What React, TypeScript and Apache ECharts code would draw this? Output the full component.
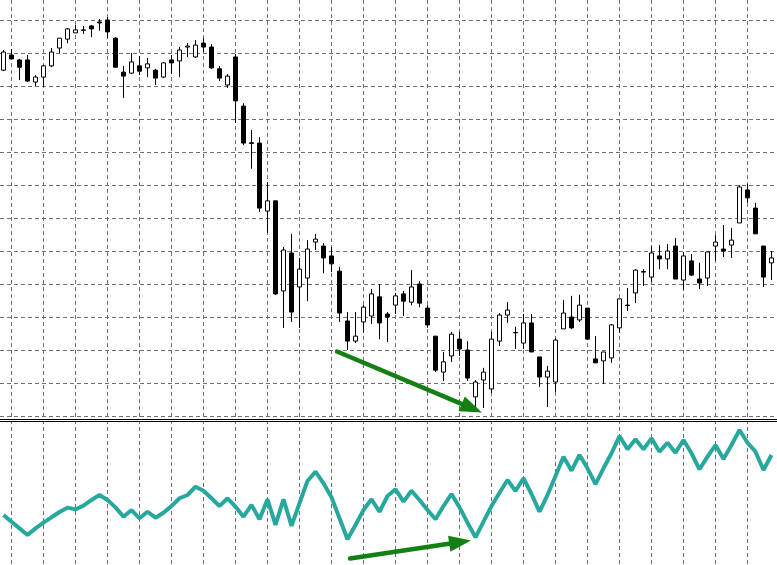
import React, { useEffect, useRef } from "react";
import * as echarts from "echarts";

// Candle values (price units), one entry per bar
const opens = [
  204.8, 209.4, 207.9, 207.9, 201.2, 202.7, 206.1, 211.5, 214.2, 216.1,
  217.0, 218.2, 219.4, 220.0, 214.5, 204.2, 203.9, 206.1, 205.5, 204.8,
  202.7, 207.9, 207.6, 211.8, 208.8, 213.0, 211.8, 205.2, 200.3, 208.8,
  193.9, 182.8, 182.7, 162.1, 165.2, 137.9, 149.4, 139.1, 141.8, 152.7,
  151.5, 148.5, 143.9, 128.8, 122.7, 128.5, 130.3, 136.1, 130.9, 133.6,
  137.0, 134.5, 140.0, 132.7, 124.2, 113.3, 118.2, 123.3, 120.0, 105.8,
  110.9, 108.2, 122.7, 130.6, 125.2, 122.1, 128.2, 117.9, 111.8, 110.3,
  126.4, 130.0, 129.1, 132.7, 117.3, 116.7, 117.6, 126.7, 133.6, 137.3,
  143.6, 142.1, 148.5, 147.6, 151.5, 141.2, 147.0, 141.5, 141.8, 151.5,
  150.6, 151.8, 158.5, 168.5, 163.0, 151.5, 146.4,
];
const closes = [
  210.3, 208.2, 205.7, 201.5, 202.7, 206.1, 210.3, 214.5, 217.3, 217.0,
  216.9, 217.3, 219.1, 216.4, 205.7, 203.0, 207.3, 204.5, 206.7, 202.4,
  207.0, 207.0, 210.9, 212.1, 212.4, 211.8, 205.5, 202.4, 203.0, 195.5,
  182.7, 182.6, 163.0, 165.2, 137.0, 150.3, 131.5, 144.5, 150.6, 153.6,
  147.9, 146.1, 131.2, 122.7, 124.2, 133.0, 137.0, 128.2, 130.0, 136.4,
  134.8, 139.1, 134.2, 127.6, 113.9, 116.4, 124.8, 120.3, 111.5, 110.3,
  113.3, 123.3, 130.6, 132.1, 125.3, 128.2, 119.4, 111.8, 113.6, 123.0,
  131.2, 126.7, 133.6, 123.3, 116.1, 119.4, 127.6, 135.5, 133.5, 144.2,
  143.8, 149.4, 147.6, 150.0, 141.5, 148.5, 142.7, 140.3, 149.7, 152.7,
  150.0, 153.3, 169.4, 166.1, 155.2, 142.1, 147.9,
];
const lows = [
  204.5, 208.2, 201.8, 201.2, 200.0, 199.7, 205.7, 210.0, 213.0, 216.1,
  215.8, 214.8, 216.7, 214.5, 205.5, 196.4, 203.6, 203.3, 202.7, 200.3,
  202.4, 203.6, 202.7, 208.8, 208.5, 210.3, 205.2, 201.5, 199.4, 188.8,
  182.1, 174.9, 161.8, 155.5, 136.7, 126.7, 128.5, 126.7, 134.8, 150.3,
  143.3, 143.6, 128.5, 120.0, 122.1, 125.2, 127.9, 123.3, 122.4, 130.9,
  130.3, 133.6, 133.0, 126.7, 113.3, 110.6, 116.4, 118.2, 110.6, 102.7,
  102.4, 107.0, 121.2, 128.2, 120.3, 120.3, 119.4, 108.8, 102.7, 107.3,
  126.4, 126.4, 128.5, 123.0, 116.1, 109.7, 116.1, 125.2, 131.8, 134.2,
  139.4, 140.6, 144.5, 144.5, 141.5, 138.2, 142.4, 138.5, 139.4, 147.0,
  148.2, 147.9, 158.5, 164.6, 155.2, 139.1, 141.2,
];
const highs = [
  210.9, 211.2, 208.2, 209.4, 203.3, 206.4, 211.5, 214.5, 217.6, 218.5,
  218.2, 218.5, 220.3, 220.9, 214.8, 206.1, 210.0, 209.1, 208.5, 205.2,
  207.3, 209.4, 211.8, 213.0, 213.9, 214.5, 212.7, 206.1, 203.6, 209.7,
  194.8, 186.7, 184.5, 170.9, 165.2, 151.2, 155.2, 147.9, 153.3, 155.2,
  152.4, 151.2, 145.2, 131.5, 131.5, 133.6, 138.5, 140.0, 131.5, 137.3,
  137.9, 144.2, 140.9, 133.6, 124.2, 119.4, 125.5, 125.5, 122.7, 110.9,
  114.6, 125.5, 131.2, 134.5, 127.0, 130.9, 130.9, 117.9, 115.2, 123.6,
  135.2, 136.4, 136.7, 132.7, 124.2, 119.4, 127.9, 135.5, 138.8, 144.5,
  144.5, 151.5, 151.8, 152.1, 153.9, 149.7, 149.1, 146.4, 149.7, 154.8,
  157.9, 157.0, 170.0, 170.3, 164.6, 151.5, 150.0,
];
// Oscillator values (0..100 scale), one per bar
const oscillator = [
  35.2, 30.5, 25.8, 21.1, 25.8, 29.8, 33.6, 37.3, 40.4, 39.2,
  41.8, 45.8, 49.3, 45.8, 40.6, 34.0, 38.7, 32.9, 37.5, 33.3,
  36.8, 41.5, 47.0, 49.3, 55.1, 52.3, 47.0, 41.5, 47.0, 41.1,
  34.0, 42.3, 32.2, 46.3, 28.2, 46.3, 27.5, 43.5, 59.2, 65.7,
  57.5, 47.7, 32.9, 18.1, 28.2, 38.7, 46.3, 37.5, 48.6, 53.3,
  44.6, 52.3, 45.8, 38.7, 32.2, 41.5, 50.0, 40.6, 29.8, 19.5,
  30.5, 41.5, 50.9, 59.9, 52.1, 61.1, 50.0, 37.5, 49.3, 62.7,
  76.3, 66.4, 77.5, 68.1, 57.0, 68.1, 78.7, 90.8, 81.5, 88.5,
  81.5, 89.2, 79.8, 86.1, 79.1, 88.0, 78.7, 67.4, 76.3, 84.5,
  74.6, 84.5, 95.1, 86.1, 79.8, 66.9, 77.5,
];
const priceMin = 100;
const priceMax = 220;
const priceStep = 10;
const categories = opens.map((_, i) => String(i + 1));

export default function App() {
  const ref = useRef<HTMLDivElement>(null);

  useEffect(() => {
    if (!ref.current) return;
    const chart = echarts.init(ref.current, null, { renderer: "svg" });
    const candleData = opens.map((o, i) => [o, closes[i], lows[i], highs[i]]);
    const dashed = { color: "#707070", width: 1, type: [4, 3] as any };
    const green = "#128012";

    const cat = (gridIndex: number, extra: any = {}) => ({
      type: "category",
      gridIndex,
      data: categories,
      boundaryGap: false,
      axisLine: { show: false },
      axisTick: { show: false },
      axisLabel: { show: false },
      splitLine: { show: false },
      ...extra,
    });
    const val = (gridIndex: number, extra: any = {}) => ({
      type: "value",
      gridIndex,
      axisLine: { show: false },
      axisTick: { show: false },
      axisLabel: { show: false },
      splitLine: { show: false },
      ...extra,
    });

    const arrow = (s: number[], t: number[]) => {
      const dx = t[0] - s[0];
      const dy = t[1] - s[1];
      const len = Math.hypot(dx, dy);
      const ux = dx / len;
      const uy = dy / len;
      const L = 22;
      const W = 8;
      const bx = t[0] - ux * L;
      const by = t[1] - uy * L;
      return [
        {
          type: "line",
          z: 100,
          shape: { x1: s[0], y1: s[1], x2: bx + ux * 3, y2: by + uy * 3 },
          style: { stroke: green, lineWidth: 4.5, lineCap: "round" },
        },
        {
          type: "polygon",
          z: 100,
          shape: {
            points: [
              [t[0], t[1]],
              [bx - uy * W, by + ux * W],
              [bx + uy * W, by - ux * W],
            ],
          },
          style: { fill: green },
        },
      ];
    };

    chart.setOption({
      animation: false,
      backgroundColor: "#ffffff",
      grid: [
        { left: 3.5, right: 5.5, top: 20, height: 396 },
        { left: 0, right: 0, top: 20, height: 396 },
        { left: 3.5, right: 5.5, top: 0, bottom: 0 },
        { left: 3.5, right: 5.5, top: 423, bottom: 0 },
      ],
      xAxis: [
        cat(0),
        val(1, { min: 0, max: 1 }),
        cat(2, {
          splitLine: {
            show: true,
            interval: (i: number) => i % 4 === 1,
            lineStyle: dashed,
          },
        }),
        cat(3),
      ],
      yAxis: [
        val(0, { min: priceMin, max: priceMax }),
        val(1, {
          min: priceMin,
          max: priceMax,
          interval: priceStep,
          splitLine: { show: true, lineStyle: dashed },
        }),
        val(2, { min: 0, max: 1 }),
        val(3, { min: 0, max: 100 }),
      ],
      series: [
        {
          type: "candlestick",
          xAxisIndex: 0,
          yAxisIndex: 0,
          data: candleData,
          barWidth: 5,
          clip: false,
          z: 5,
          itemStyle: {
            color: "#ffffff",
            color0: "#000000",
            borderColor: "#000000",
            borderColor0: "#000000",
            borderWidth: 1,
          },
        },
        {
          type: "line",
          xAxisIndex: 3,
          yAxisIndex: 3,
          data: oscillator,
          showSymbol: false,
          symbol: "none",
          z: 5,
          lineStyle: { color: "#27a89e", width: 4 },
        },
      ],
      graphic: [
        {
          type: "rect",
          z: 90,
          shape: { x: 0, y: 417, width: 777, height: 5 },
          style: { fill: "#ffffff" },
        },
        {
          type: "line",
          z: 95,
          shape: { x1: 0, y1: 419.5, x2: 777, y2: 419.5 },
          style: { stroke: "#000000", lineWidth: 1 },
        },
        {
          type: "line",
          z: 95,
          shape: { x1: 0, y1: 421.5, x2: 777, y2: 421.5 },
          style: { stroke: "#000000", lineWidth: 1 },
        },
        ...arrow([337, 351.5], [482, 412.5]),
        ...arrow([350, 558.5], [471, 540.5]),
      ],
    });

    return () => chart.dispose();
  }, []);

  return (
    <div
      ref={ref}
      style={{
        position: "fixed",
        left: 0,
        top: 0,
        width: 777,
        height: 565,
        background: "#ffffff",
      }}
    />
  );
}
